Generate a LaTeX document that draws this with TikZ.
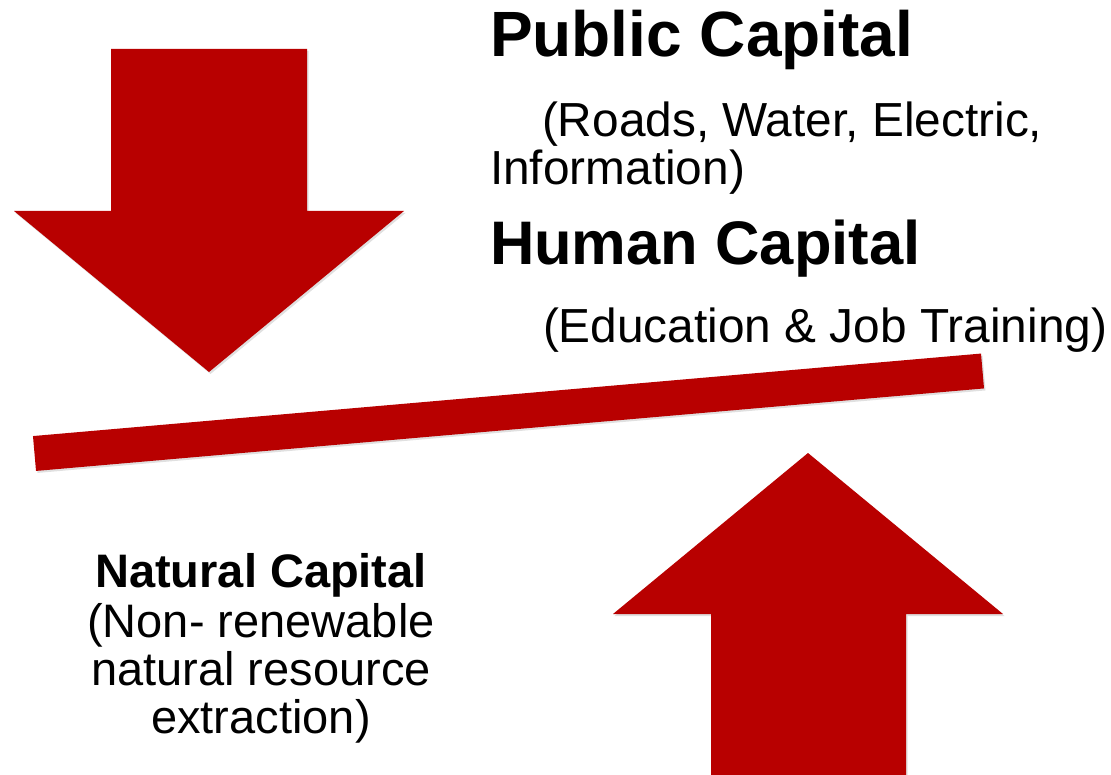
\documentclass[tikz,border=0pt]{standalone}
\usepackage{fontspec}
\setmainfont{Liberation Sans}
\definecolor{arrowred}{RGB}{184,0,0}
\begin{document}
\begin{tikzpicture}[x=1pt,y=-1pt,
  redshape/.style={fill=arrowred},
  softshadow/.style={fill=black,opacity=0.12},
  txt/.style={inner sep=0pt,outer sep=0pt,text=black},
  bigA/.style={txt,font=\fontsize{64}{64}\selectfont\bfseries},
  bigB/.style={txt,font=\fontsize{61.5}{61.5}\selectfont\bfseries},
  reg/.style={txt,font=\fontsize{47.8}{47.8}\selectfont},
  nreg/.style={txt,font=\fontsize{47}{47}\selectfont},
  mid/.style={txt,font=\fontsize{47}{47}\selectfont\bfseries}]
\useasboundingbox (0,0) rectangle (1111,775);
\fill[white] (0,0) rectangle (1111,775);
% shadows
\begin{scope}[shift={(1.5,2)}]
\path[softshadow] (111,49) -- (307,49) -- (307,211) -- (404,211) -- (209,372) -- (14,211) -- (111,211) -- cycle;
\path[softshadow] (808,453) -- (1003,614) -- (906,614) -- (906,780) -- (711,780) -- (711,614) -- (613,614) -- cycle;
\draw[black,opacity=0.12,line width=35pt] (34.5,453.5) -- (982.5,371);
\end{scope}
% down arrow
\path[redshape] (111,49) -- (307,49) -- (307,211) -- (404,211) -- (209,372) -- (14,211) -- (111,211) -- cycle;
% up arrow
\path[redshape] (808,453) -- (1003,614) -- (906,614) -- (906,780) -- (711,780) -- (711,614) -- (613,614) -- cycle;
% lever bar
\coordinate (barL) at (34.5,453.5);
\coordinate (barR) at (982.5,371);
\draw[arrowred,line width=35pt] (barL) -- (barR);
% texts
\node[bigA,anchor=base west] (pub) at (490,57) {Public Capital};
\node[reg,anchor=base west] (roads) at (542,137) {(Roads, Water, Electric,};
\node[reg,anchor=base west] (info) at (490,185) {Information)};
\node[bigB,anchor=base west] (hum) at (490,265) {Human Capital};
\node[reg,anchor=base west] (edu) at (543,343) {(Education \& Job Training)};
\node[mid,anchor=base] (nat) at (261,587) {Natural Capital};
\node[nreg,anchor=base] (nat1) at (261,637) {(Non- renewable};
\node[nreg,anchor=base] (nat2) at (261,685) {natural resource};
\node[nreg,anchor=base] (nat3) at (261,733) {extraction)};
\end{tikzpicture}
\end{document}
